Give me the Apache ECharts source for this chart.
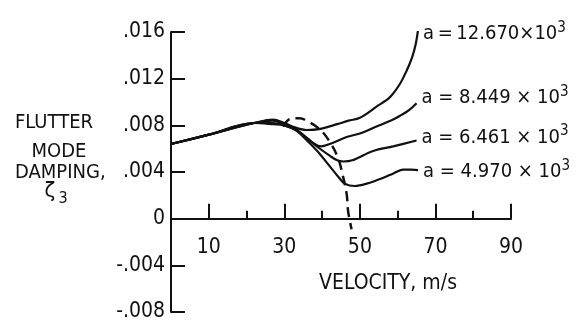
<!DOCTYPE html>
<html>
<head>
<meta charset="utf-8">
<script src="https://cdn.jsdelivr.net/npm/echarts@6/dist/echarts.min.js"></script>
<style>
  html, body { margin: 0; padding: 0; background: #fff; }
  #chart { width: 581px; height: 329px; }
</style>
</head>
<body>
<div id="chart"></div>
<script>
// Velocity (m/s) tick values
const velocityMajorTicks = [10, 30, 50, 70, 90];
const velocityMinorTicks = [20, 40, 60, 80];
// Damping tick values
const dampingTicks = [-0.008, -0.004, 0, 0.004, 0.008, 0.012, 0.016];

// Flutter mode damping vs velocity, one curve per value of a
const curveA12670 = [[0, 0.0064], [10, 0.0072], [22, 0.0082], [27, 0.0085], [30, 0.0082], [33, 0.0078], [36, 0.0076], [39.5, 0.0077], [44, 0.0081], [47, 0.0084], [50, 0.00865], [54.4, 0.0096], [57.9, 0.0104], [60.5, 0.0115], [62.4, 0.0127], [63.8, 0.0138], [64.8, 0.0150], [65.4, 0.0162]];
const curveA8449 = [[0, 0.0064], [10, 0.0072], [22, 0.0082], [27, 0.0084], [30, 0.0081], [33, 0.0077], [36, 0.0069], [38, 0.0064], [39.7, 0.0062], [42, 0.0064], [46.5, 0.0070], [50, 0.0073], [54.4, 0.0079], [58.8, 0.0085], [61, 0.0089], [63, 0.0093], [65, 0.0099]];
const curveA6461 = [[0, 0.0064], [10, 0.0072], [22, 0.0082], [27, 0.0082], [30, 0.0080], [33, 0.0076], [36, 0.0069], [39, 0.0061], [42, 0.0054], [44, 0.0050], [45.6, 0.0049], [48, 0.0050], [53.5, 0.0058], [58.8, 0.0062], [65, 0.0067]];
const curveA4970 = [[0, 0.0064], [10, 0.0072], [22, 0.0082], [27, 0.0081], [30, 0.0080], [33, 0.0076], [36, 0.0067], [39, 0.0057], [42, 0.0045], [44.5, 0.0035], [46, 0.0030], [48.6, 0.0028], [51.8, 0.0030], [56.2, 0.0035], [59, 0.0039], [61.5, 0.0042], [63.5, 0.0042], [65.4, 0.00416]];
// Dashed boundary through the damping minima
const flutterBoundary = [[29.6, 0.0079], [30.8, 0.0084], [32.3, 0.0086], [34, 0.0086], [35.9, 0.0084], [39.4, 0.00765], [42, 0.0066], [44.2, 0.0052], [45.4, 0.0038], [46.5, 0.0021], [46.9, 0.0006], [47.8, -0.0009]];

const curveNames = ['a\u2009=\u200912.670×10', 'a = 8.449 × 10', 'a = 6.461 × 10', 'a = 4.970 × 10'];
const curveData = [curveA12670, curveA8449, curveA6461, curveA4970];
const labelShift = [4, -5, -3, 2];

const FONT = "'DejaVu Sans Condensed', 'Liberation Sans Narrow', 'Liberation Sans', sans-serif";
const INK = '#111';

// Plot area: y from -0.008 (bottom) to 0.016 (top); the velocity axis sits on y = 0
const GRID_TOP = 32;
const GRID_HEIGHT = 280;
const ZERO_LIFT = GRID_HEIGHT * 0.008 / 0.024;

function dampingLabel(v) {
  if (Math.abs(v) < 1e-9) return '0';
  const s = Math.abs(v).toFixed(3).replace(/^0/, '');
  return (v < 0 ? '-' : '') + s;
}

const chart = echarts.init(document.getElementById('chart'), null, { renderer: 'canvas' });

const curveSeries = curveData.map((d, i) => ({
  type: 'line',
  name: curveNames[i],
  data: d,
  smooth: 0.35,
  showSymbol: false,
  symbol: 'none',
  lineStyle: { color: INK, width: 2.2 },
  z: 3,
  endLabel: {
    show: true,
    distance: 5,
    offset: [0, labelShift[i]],
    formatter: () => curveNames[i] + '{sup|3}',
    color: INK,
    fontFamily: FONT,
    fontSize: 20,
    rich: {
      sup: { fontFamily: FONT, fontSize: 15, color: INK, padding: [0, 0, 12, 0] }
    }
  }
}));

const option = {
  backgroundColor: '#fff',
  animation: false,
  grid: { left: 171, top: GRID_TOP, width: 340, height: GRID_HEIGHT, outerBoundsMode: 'none' },
  xAxis: [
    {
      type: 'value', min: 0, max: 90, position: 'bottom', offset: -ZERO_LIFT,
      axisLine: { onZero: false, lineStyle: { color: INK, width: 2 } },
      axisTick: { inside: true, length: 15, customValues: velocityMajorTicks, lineStyle: { color: INK, width: 2 } },
      axisLabel: { customValues: velocityMajorTicks, margin: 18, color: INK, fontFamily: FONT, fontSize: 21 },
      splitLine: { show: false }
    },
    {
      type: 'value', min: 0, max: 90, position: 'bottom', offset: -ZERO_LIFT,
      axisLine: { show: false, onZero: false },
      axisTick: { inside: true, length: 8, customValues: velocityMinorTicks, lineStyle: { color: INK, width: 2 } },
      axisLabel: { show: false },
      splitLine: { show: false }
    }
  ],
  yAxis: {
    type: 'value', min: -0.008, max: 0.016,
    axisLine: { show: true, onZero: false, lineStyle: { color: INK, width: 2 } },
    axisTick: { show: true, inside: true, length: 14, customValues: dampingTicks, lineStyle: { color: INK, width: 2 } },
    axisLabel: { customValues: dampingTicks, margin: 6, color: INK, fontFamily: FONT, fontSize: 21, formatter: dampingLabel },
    splitLine: { show: false }
  },
  series: curveSeries.concat([{
    type: 'line',
    name: 'boundary',
    data: flutterBoundary,
    smooth: 0.4,
    showSymbol: false,
    symbol: 'none',
    lineStyle: { color: INK, width: 2.5, type: [10, 6] },
    z: 4
  }]),
  graphic: [
    { type: 'text', style: { text: 'FLUTTER', x: 54, y: 123, align: 'center', verticalAlign: 'middle', fontFamily: FONT, fontSize: 20, fill: INK } },
    { type: 'text', style: { text: 'MODE', x: 59, y: 152, align: 'center', verticalAlign: 'middle', fontFamily: FONT, fontSize: 20, fill: INK } },
    { type: 'text', style: { text: 'DAMPING,', x: 15, y: 173, align: 'left', verticalAlign: 'middle', fontFamily: FONT, fontSize: 20, fill: INK } },
    { type: 'text', style: { text: 'ζ', x: 50, y: 191, align: 'center', verticalAlign: 'middle', fontFamily: FONT, fontSize: 22, fill: INK } },
    { type: 'text', style: { text: '3', x: 63, y: 199, align: 'center', verticalAlign: 'middle', fontFamily: FONT, fontSize: 16, fill: INK } },
    { type: 'text', style: { text: 'VELOCITY, m/s', x: 388, y: 284, align: 'center', verticalAlign: 'middle', fontFamily: FONT, fontSize: 21, fill: INK } }
  ]
};

chart.setOption(option);
</script>
</body>
</html>
